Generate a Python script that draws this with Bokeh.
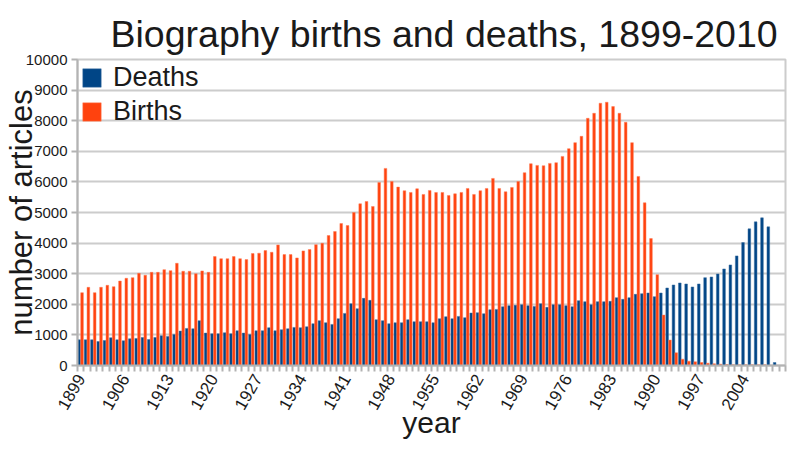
from bokeh.plotting import figure
from bokeh.models import ColumnDataSource, FixedTicker, Legend, LegendItem
from bokeh.transform import dodge
from bokeh.embed import file_html
from bokeh.resources import INLINE

years = list(range(1899, 2011))

deaths = [840, 840, 840, 786, 819, 906, 840, 808, 873, 884,
          917, 851, 917, 972, 950, 1015, 1124, 1212, 1200, 1463,
          1059, 1037, 1037, 1070, 1037, 1135, 1059, 1015, 1135, 1135,
          1234, 1135, 1168, 1200, 1245, 1234, 1266, 1365, 1463, 1397,
          1343, 1528, 1703, 2020, 1856, 2194, 2129, 1496, 1463, 1365,
          1397, 1397, 1496, 1430, 1430, 1430, 1397, 1528, 1594, 1528,
          1605, 1561, 1714, 1725, 1692, 1823, 1834, 1921, 1954, 1965,
          1987, 1954, 1932, 2020, 1900, 1987, 1987, 1954, 1921, 2118,
          2085, 1987, 2085, 2085, 2096, 2216, 2162, 2216, 2325, 2347,
          2369, 2249, 2369, 2533, 2631, 2697, 2664, 2566, 2664, 2871,
          2893, 2991, 3155, 3286, 3581, 4017, 4465, 4694, 4825, 4531,
          98]

births = [2380, 2555, 2380, 2555, 2620, 2576, 2760, 2850, 2870, 3013,
          2950, 3045, 3045, 3133, 3100, 3340, 3080, 3080, 3000, 3090,
          3045, 3560, 3490, 3490, 3560, 3490, 3460, 3660, 3670, 3755,
          3700, 3940, 3624, 3624, 3515, 3745, 3790, 3950, 3995, 4247,
          4378, 4640, 4574, 5000, 5284, 5360, 5197, 5983, 6441, 6015,
          5830, 5710, 5655, 5775, 5590, 5720, 5655, 5655, 5557, 5611,
          5655, 5786, 5590, 5710, 5786, 6114, 5786, 5677, 5819, 6015,
          6300, 6594, 6539, 6528, 6605, 6627, 6834, 7085, 7282, 7489,
          8079, 8242, 8570, 8603, 8461, 8242, 7948, 7282, 6179, 5317,
          4148, 2969, 1648, 830, 415, 207, 142, 120, 98, 76,
          55, 44, 33, 22, 22, 22, 22, 22, 22, 5,
          5, 0]

label_years = list(range(1899, 2011, 7))
y_ticks = list(range(0, 10001, 1000))

source = ColumnDataSource(dict(year=years, deaths=deaths, births=births))

FONT = "Liberation Sans"

p = figure(width=779, height=442, output_backend="svg", toolbar_location=None,
           x_range=(1898.5, 2010.5), y_range=(0, 10000),
           frame_width=708, frame_height=306,
           min_border_left=0, min_border_right=2, min_border_top=59,
           min_border_bottom=0)

p.title.text = "Biography births and deaths, 1899-2010"
p.title.text_font = FONT
p.title.text_font_size = "37.5px"
p.title.text_font_style = "normal"
p.title.text_color = "#1a1a1a"
p.title.align = "left"
p.title.offset = 33

bw = 0.42
r_d = p.vbar(x=dodge("year", -0.22, range=p.x_range), top="deaths", width=bw,
             source=source, fill_color="#004586", line_color="#3a6fa0", line_width=0.5)
r_b = p.vbar(x=dodge("year", 0.22, range=p.x_range), top="births", width=bw,
             source=source, fill_color="#ff420e", line_color="#ff7a55", line_width=0.5)

ticker = FixedTicker(ticks=label_years, minor_ticks=[y - 0.5 for y in years] + [2010.5])
p.xaxis.ticker = ticker
p.xaxis.major_label_orientation = 1.05
p.xaxis.major_label_text_font = FONT
p.xaxis.major_label_text_font_size = "17px"
p.xaxis.major_label_text_color = "#1a1a1a"
p.xaxis.major_tick_line_color = None
p.xaxis.minor_tick_line_color = "#b3b3b3"
p.xaxis.minor_tick_line_width = 2
p.xaxis.minor_tick_out = 6
p.xaxis.minor_tick_in = 0
p.xaxis.axis_line_color = "#b3b3b3"
p.xaxis.axis_line_width = 2
p.xaxis.axis_label = "year"
p.xaxis.axis_label_text_font = FONT
p.xaxis.axis_label_text_font_size = "30px"
p.xaxis.axis_label_text_font_style = "normal"
p.xaxis.axis_label_text_color = "#1a1a1a"
p.xaxis.axis_label_standoff = -11
p.xaxis.major_label_standoff = 4

p.yaxis.ticker = FixedTicker(ticks=y_ticks)
p.yaxis.major_label_text_font = FONT
p.yaxis.major_label_text_font_size = "15px"
p.yaxis.major_label_text_color = "#1a1a1a"
p.yaxis.major_tick_line_color = "#b3b3b3"
p.yaxis.major_tick_line_width = 2
p.yaxis.major_tick_out = 6
p.yaxis.major_tick_in = 0
p.yaxis.minor_tick_line_color = None
p.yaxis.axis_line_color = "#b3b3b3"
p.yaxis.axis_line_width = 2
p.yaxis.axis_label = "number of articles"
p.yaxis.axis_label_text_font = FONT
p.yaxis.axis_label_text_font_size = "31px"
p.yaxis.axis_label_text_font_style = "normal"
p.yaxis.axis_label_text_color = "#1a1a1a"
p.yaxis.axis_label_standoff = -16
p.yaxis.major_label_standoff = 4

p.xgrid.grid_line_color = None
p.ygrid.grid_line_color = "#cccccc"
p.ygrid.grid_line_width = 2
p.outline_line_color = "#cccccc"
p.outline_line_width = 2

legend = Legend(items=[LegendItem(label="Deaths", renderers=[r_d]),
                       LegendItem(label="Births", renderers=[r_b])],
                location="top_left")
legend.background_fill_alpha = 0
legend.border_line_color = None
legend.label_text_font = FONT
legend.label_text_font_size = "27px"
legend.label_text_color = "#1a1a1a"
legend.glyph_width = 23
legend.glyph_height = 23
legend.label_height = 23
legend.spacing = 3
legend.margin = 3
legend.padding = 2
legend.label_standoff = 10
p.add_layout(legend)

open("out.html", "w").write(file_html(p, INLINE))
